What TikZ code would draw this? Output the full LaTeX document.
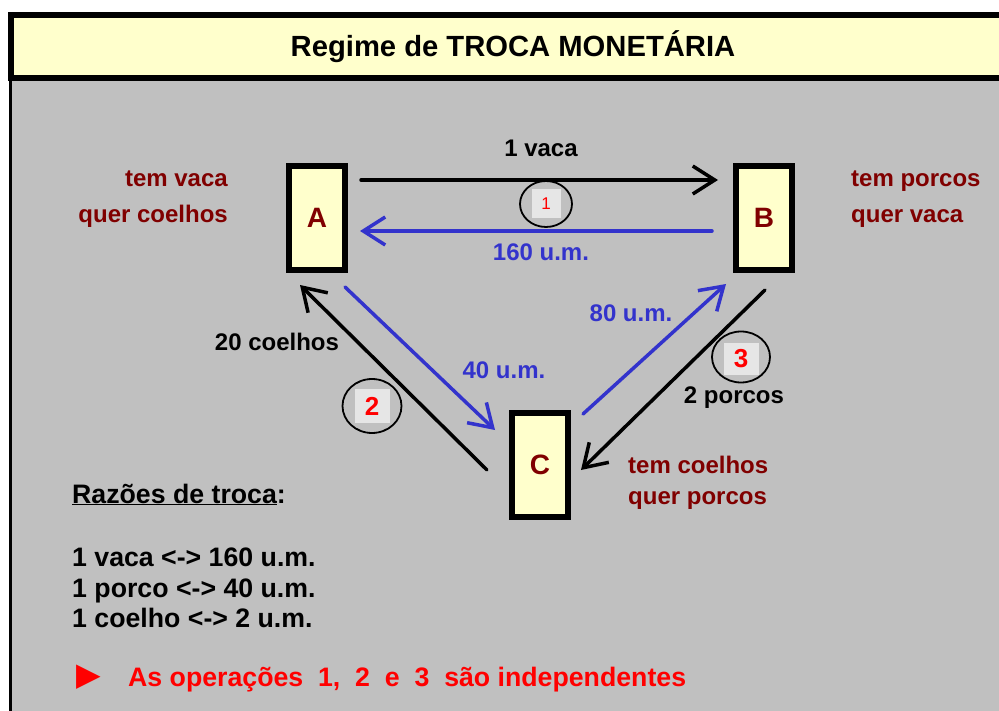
\documentclass[tikz,border=0pt]{standalone}
\usepackage{fontspec}
\setmainfont{Liberation Sans}
\newfontfamily\symfont{DejaVu Sans}
\usetikzlibrary{arrows.meta,shapes.geometric}
\definecolor{bg}{HTML}{C0C0C0}
\definecolor{pale}{HTML}{FFFFCC}
\definecolor{darkred}{HTML}{800000}
\definecolor{arrblue}{HTML}{3333CC}
\definecolor{numbg}{HTML}{E6E6E6}
\begin{document}
\begin{tikzpicture}[x=1pt,y=-1pt,
  every node/.style={font=\bfseries\fontsize{24}{28}\selectfont, inner sep=0pt},
  agent/.style={draw, line width=6pt, fill=pale, minimum width=56pt, minimum height=104pt,
    text=darkred, font=\bfseries\fontsize{28}{30}\selectfont},
  flow/.style={line width=3.5pt, line cap=round,
    -{Straight Barb[length=22pt,width=28pt,line width=3.5pt]}},
  goods/.style={flow, draw=black},
  money/.style={flow, draw=arrblue},
  moneylbl/.style={text=arrblue},
  wish/.style={text=darkred},
  bigtxt/.style={font=\bfseries\fontsize{26.7}{30}\selectfont},
  numsq/.style={fill=numbg, minimum size=34pt, text=red, font=\bfseries\fontsize{26}{28}\selectfont},
  ring/.style={draw, ellipse, line width=1.8pt, inner sep=0pt}
]
\useasboundingbox (0,0) rectangle (999,711);
\fill[white] (0,0) rectangle (999,711);
% grey panel
\fill[bg] (10,78) rectangle (999,711);
\draw[line width=3pt] (10.5,78) -- (10.5,711);
% title bar
\draw[line width=6pt, fill=pale] (11,15) rectangle (1010,78);
\node[font=\bfseries\fontsize{29.2}{32}\selectfont] (title) at (513,47) {Regime de TROCA MONETÁRIA};

% agents
\node[agent] (A) at (317,218) {A};
\node[agent] (B) at (764,218) {B};
\node[agent] (C) at (540,465) {C};

% flows
\draw[goods] ([xshift=13pt,yshift=38pt]A.east) -- ([xshift=-15pt,yshift=38pt]B.west);
\draw[money] ([xshift=-21pt,yshift=-13pt]B.west) -- ([xshift=12pt,yshift=-13pt]A.east);
\draw[goods] ([xshift=-22pt,yshift=-5pt]C.west) -- ([xshift=-17pt,yshift=-12pt]A.south);
\draw[money] ([xshift=28pt,yshift=-14pt]A.south) -- ([xshift=-14pt,yshift=-20pt]C.north west);
\draw[money] ([xshift=12pt,yshift=-4pt]C.north east) -- ([xshift=-38pt,yshift=-11pt]B.south);
\draw[goods] ([xshift=1pt,yshift=-17pt]B.south) -- ([xshift=10pt,yshift=-5pt]C.east);

% flow labels
\node (l1) at (541,148) {1 vaca};
\node[moneylbl] (l2) at (541,252) {160 u.m.};
\node (l3) at (277,342) {20 coelhos};
\node[moneylbl] (l4) at (504,370) {40 u.m.};
\node[moneylbl] (l5) at (631,313) {80 u.m.};
\node (l6) at (734,398) {2 porcos};

% numbered rings
\node[numsq, minimum size=29pt, font=\fontsize{17}{17}\selectfont] (n1) at (546,204) {1};
\node[ring, minimum width=52pt, minimum height=46pt] (r1) at (546,204) {};
\node[numsq, minimum width=35pt, minimum height=34pt] (n2) at (372,406) {2};
\node[ring, minimum width=59pt, minimum height=54pt] (r2) at (372,406) {};
\node[numsq, minimum width=35pt, minimum height=32pt] (n3) at (741,359) {3};
\node[ring, minimum width=58pt, minimum height=51pt] (r3) at (741,357) {};

% wishes
\node[wish, anchor=base east] (wa1) at (228,187) {tem vaca};
\node[wish, anchor=base east] (wa2) at (228,223) {quer coelhos};
\node[wish, anchor=base west] (wb1) at (851,187) {tem porcos};
\node[wish, anchor=base west] (wb2) at (851,223) {quer vaca};
\node[wish, anchor=base west] (wc1) at (628,473) {tem coelhos};
\node[wish, anchor=base west] (wc2) at (628,504) {quer porcos};

% ratios
\node[bigtxt, anchor=base west] (rt) at (72,503) {\underline{Razões de troca}:};
\node[bigtxt, anchor=base west] (r1l) at (72,566) {1 vaca <-> 160 u.m.};
\node[bigtxt, anchor=base west] (r2l) at (72,597) {1 porco <-> 40 u.m.};
\node[bigtxt, anchor=base west] (r3l) at (72,627) {1 coelho <-> 2 u.m.};

% note
\node[text=red, anchor=center] (bul) at (89,677) {\symfont\fontsize{32}{34}\selectfont ▶};
\node[bigtxt, text=red, anchor=base west] (note) at (128,686) {As operações~~1,~~2~~e~~3~~são independentes};
\end{tikzpicture}
\end{document}
